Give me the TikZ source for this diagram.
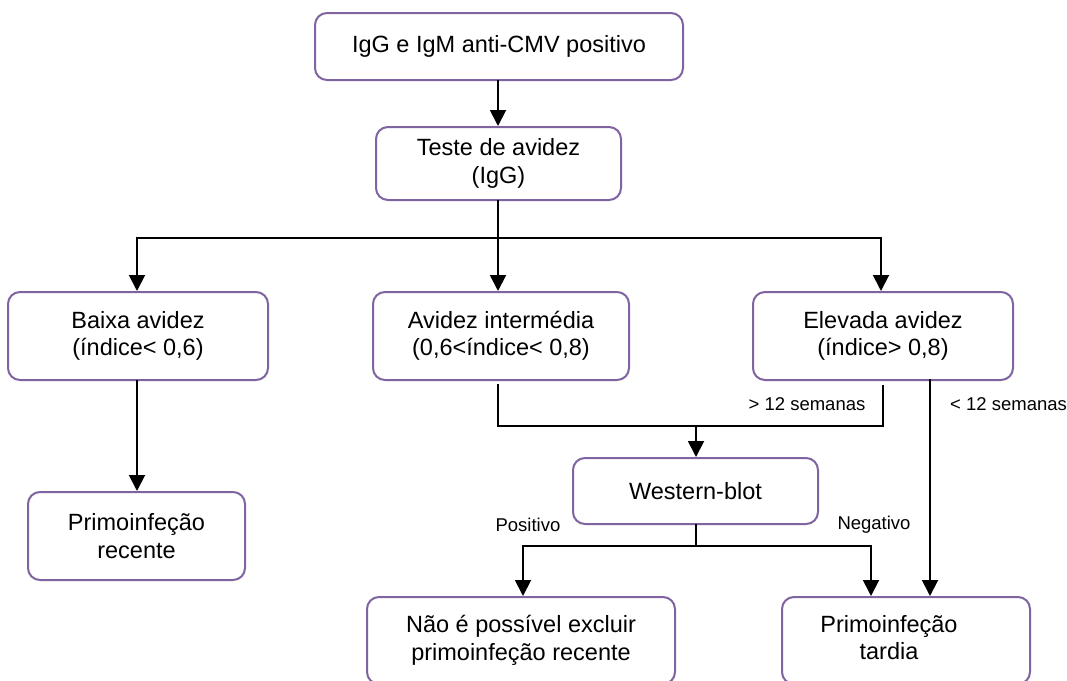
\documentclass[tikz,border=0pt]{standalone}
\usepackage{fontspec}
\setmainfont{Liberation Sans}
\usetikzlibrary{arrows.meta}
\definecolor{boxpurple}{HTML}{8064A2}
\begin{document}
\begin{tikzpicture}[x=1pt,y=-1pt,
  box/.style={draw=boxpurple, line width=2pt, rounded corners=12pt, fill=white, align=center, inner sep=0pt, font=\fontsize{23.5}{27.5}\selectfont},
  lbl/.style={font=\fontsize{18.5}{22}\selectfont, inner sep=0pt},
  arr/.style={line width=1.9pt, line cap=rect, -{Triangle[length=16pt,width=16pt]}},
  con/.style={line width=1.6pt, line cap=rect}]
\useasboundingbox (0,0) rectangle (1067,680);
\fill[white] (0,0) rectangle (1067,680);

\node[box, minimum width=368pt, minimum height=67pt] (top) at (499,46.5) {IgG e IgM anti-CMV positivo};
\node[box, minimum width=245pt, minimum height=73pt] (teste) at (498.5,163.5) {Teste de avidez\\(IgG)};
\node[box, minimum width=260pt, minimum height=88pt] (baixa) at (138,336) {Baixa avidez\\(índice< 0,6)};
\node[box, minimum width=256pt, minimum height=88pt] (inter) at (501,336) {Avidez intermédia\\(0,6<índice< 0,8)};
\node[box, minimum width=260pt, minimum height=88pt] (elev) at (883,336) {Elevada avidez\\(índice> 0,8)};
\node[box, minimum width=217pt, minimum height=88pt] (rec) at (136.5,536) {Primoinfeção\\recente};
\node[box, minimum width=245pt, minimum height=66pt] (west) at (695.5,491) {Western-blot};
\node[box, minimum width=308pt, minimum height=87pt] (nao) at (521,640.5) {Não é possível excluir\\primoinfeção recente};
\node[box, minimum width=248pt, minimum height=87pt] (tard) at (906,640.5) {\begin{tabular}{@{}c@{}}Primoinfeção\\tardia\end{tabular}\hspace*{34pt}};

% guide x positions
\coordinate (cx) at (498,0);
\coordinate (bx) at (137,0);
\coordinate (ex) at (881,0);
\coordinate (wx) at (696,0);

% top -> teste
\draw[arr] (top.south -| cx) -- (teste.north -| cx);

% teste -> three branches
\coordinate (j1) at (498,238);
\draw[con] (teste.south -| cx) -- (j1);
\draw[con] (bx |- j1) -- (ex |- j1);
\draw[arr] (bx |- j1) -- (baixa.north -| bx);
\draw[arr] (j1) -- (inter.north -| cx);
\draw[arr] (ex |- j1) -- (elev.north -| ex);

% baixa -> recente
\draw[arr] (baixa.south -| bx) -- (rec.north -| bx);

% inter / elev -> western
\coordinate (j2) at (696,426);
\coordinate (il) at (498,385);
\coordinate (el) at (883,386);
\draw[con] (il) |- (j2) -| (el);
\draw[arr] (j2) -- (j2 |- west.north);
\node[lbl] (gt12) at (807,404) {> 12 semanas};

% elev -> tardia directly
\coordinate (rx) at (930,380);
\draw[arr] (rx) -- (rx |- tard.north);
\node[lbl, anchor=west] (lt12) at (950,404) {< 12 semanas};

% western -> results
\coordinate (pj) at (523,546);
\coordinate (nj) at (871,546);
\draw[con] (west.south -| wx) -- (wx |- pj);
\draw[con] (pj) -- (nj);
\draw[arr] (pj) -- (pj |- nao.north);
\draw[arr] (nj) -- (nj |- tard.north);
\node[lbl] (pos) at (528,525) {Positivo};
\node[lbl] (neg) at (874,525) {Negativo};
\end{tikzpicture}
\end{document}
